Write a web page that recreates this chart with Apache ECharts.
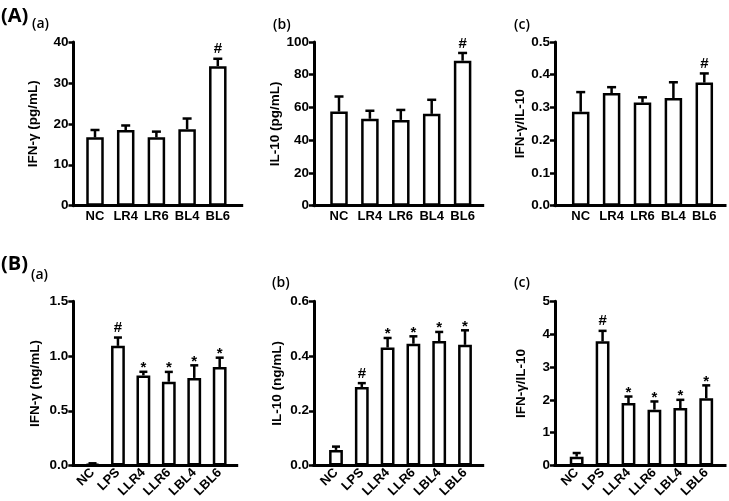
<!DOCTYPE html>
<html><head><meta charset="utf-8">
<script src="https://cdn.jsdelivr.net/npm/echarts@6/dist/echarts.min.js"></script>
<style>html,body{margin:0;padding:0;background:#fff}#c{width:729px;height:501px}</style>
</head><body><div id="c"></div>
<script>
// ---- data ----
const catsA = ['NC','LR4','LR6','BL4','BL6'];
const catsB = ['NC','LPS','LLR4','LLR6','LBL4','LBL6'];

const Aa_mean = [16.7, 18.5, 16.7, 18.7, 34.1];
const Aa_err  = [1.8, 1.1, 1.4, 2.6, 1.8];
const Aa_mark = ['', '', '', '', '#'];

const Ab_mean = [57.5, 53.1, 52.4, 56.1, 88.6];
const Ab_err  = [9.2, 4.9, 6.1, 8.6, 4.7];
const Ab_mark = ['', '', '', '', '#'];

const Ac_mean = [0.287, 0.344, 0.315, 0.329, 0.376];
const Ac_err  = [0.060, 0.018, 0.016, 0.048, 0.028];
const Ac_mark = ['', '', '', '', '#'];

const Ba_mean = [0.015, 1.093, 0.823, 0.765, 0.80, 0.90];
const Ba_err  = [0.005, 0.076, 0.033, 0.09, 0.115, 0.085];
const Ba_mark = ['', '#', '*', '*', '*', '*'];

const Bb_mean = [0.057, 0.287, 0.431, 0.445, 0.455, 0.441];
const Bb_err  = [0.012, 0.014, 0.035, 0.027, 0.033, 0.053];
const Bb_mark = ['', '#', '*', '*', '*', '*'];

const Bc_mean = [0.27, 3.78, 1.90, 1.70, 1.75, 2.05];
const Bc_err  = [0.11, 0.32, 0.20, 0.25, 0.25, 0.39];
const Bc_mark = ['', '#', '*', '*', '*', '*'];

// y axis ranges / ticks
const Aa_axis = {max: 40, interval: 10, dec: 0, name: 'IFN-γ (pg/mL)'};
const Ab_axis = {max: 100, interval: 20, dec: 0, name: 'IL-10 (pg/mL)'};
const Ac_axis = {max: 0.5, interval: 0.1, dec: 1, name: 'IFN-γ/IL-10'};
const Ba_axis = {max: 1.5, interval: 0.5, dec: 1, name: 'IFN-γ (ng/mL)'};
const Bb_axis = {max: 0.6, interval: 0.2, dec: 1, name: 'IL-10 (ng/mL)'};
const Bc_axis = {max: 5, interval: 1, dec: 0, name: 'IFN-γ/IL-10'};

// ---- layout (positions/styles) ----
const panels = [
  {cats: catsA, mean: Aa_mean, err: Aa_err, mark: Aa_mark, ax: Aa_axis, axisX: 73.5, end: 241.7, top: 42, zero: 205.7, bandStart: 79.65, band: 153.5, nameGap: 33, rot: 0, bw: 17.5, cap: 4.5},
  {cats: catsA, mean: Ab_mean, err: Ab_err, mark: Ab_mark, ax: Ab_axis, axisX: 314, end: 482.7, top: 42, zero: 205.7, bandStart: 323.55, band: 154.5, nameGap: 29.5, rot: 0, bw: 17.5, cap: 4.5},
  {cats: catsA, mean: Ac_mean, err: Ac_err, mark: Ac_mark, ax: Ac_axis, axisX: 555, end: 725, top: 42, zero: 205.7, bandStart: 565.25, band: 154.5, nameGap: 25.5, rot: 0, bw: 17.5, cap: 4.5},
  {cats: catsB, mean: Ba_mean, err: Ba_err, mark: Ba_mark, ax: Ba_axis, axisX: 73.3, end: 236.7, top: 301.3, zero: 465.5, bandStart: 79.8, band: 152.6, nameGap: 31.5, rot: 45, bw: 13.8, cap: 4},
  {cats: catsB, mean: Bb_mean, err: Bb_err, mark: Bb_mark, ax: Bb_axis, axisX: 314, end: 482.7, top: 301.3, zero: 465.5, bandStart: 323.1, band: 154.8, nameGap: 29.5, rot: 45, bw: 13.8, cap: 4},
  {cats: catsB, mean: Bc_mean, err: Bc_err, mark: Bc_mark, ax: Bc_axis, axisX: 555, end: 725, top: 301.3, zero: 465.5, bandStart: 563.7, band: 155.5, nameGap: 26.5, rot: 45, bw: 13.8, cap: 4}
];

const FONT = 'Liberation Sans, Arial, sans-serif';
const grid = [], xAxis = [], yAxis = [], series = [];
const N = panels.length;

panels.forEach((p, i) => {
  const h = p.zero - p.top;
  grid[i] = {left: p.axisX, top: p.top, width: p.end - p.axisX, height: h, containLabel: false};
  grid[N + i] = {left: p.bandStart, top: p.top, width: p.band, height: h, containLabel: false};

  xAxis[i] = {gridIndex: i, type: 'category', data: p.cats,
    axisLine: {show: true, lineStyle: {color: '#000', width: 3, cap: 'square'}},
    axisTick: {show: false}, axisLabel: {show: false}, splitLine: {show: false}};
  yAxis[i] = {gridIndex: i, type: 'value', min: 0, max: p.ax.max, interval: p.ax.interval,
    axisLine: {show: true, lineStyle: {color: '#000', width: 3}},
    axisTick: {show: true, length: 5, lineStyle: {color: '#000', width: 2.5}},
    axisLabel: {show: true, margin: 5, color: '#000', fontFamily: FONT, fontWeight: 'bold', fontSize: 13.5,
      formatter: v => Number(v).toFixed(p.ax.dec)},
    splitLine: {show: false},
    name: p.ax.name, nameLocation: 'middle', nameGap: p.nameGap,
    nameTextStyle: {color: '#000', fontFamily: FONT, fontWeight: 'bold', fontSize: 13.5}};

  xAxis[N + i] = {gridIndex: N + i, type: 'category', data: p.cats,
    axisLine: {show: false}, axisTick: {show: false}, splitLine: {show: false},
    axisLabel: {show: true, interval: 0, rotate: p.rot, margin: p.rot ? 5 : 4, color: '#000',
      fontFamily: FONT, fontWeight: 'bold', fontSize: 13}};
  yAxis[N + i] = {gridIndex: N + i, type: 'value', min: 0, max: p.ax.max, show: false, splitLine: {show: false}};

  series.push({type: 'bar', xAxisIndex: N + i, yAxisIndex: N + i, data: p.mean, barWidth: p.bw,
    itemStyle: {color: '#fff', borderColor: '#000', borderWidth: 2.5}, z: 2, silent: true, animation: false});

  series.push({type: 'custom', xAxisIndex: N + i, yAxisIndex: N + i, z: 3, silent: true, animation: false,
    data: p.mean.map((m, k) => [k, m, p.err[k]]),
    renderItem: (params, api) => {
      const k = api.value(0), m = api.value(1), e = api.value(2);
      const p0 = api.coord([k, m]);
      const p1 = api.coord([k, m + e]);
      const mk = p.mark[params.dataIndex];
      const ch = [
        {type: 'line', shape: {x1: p0[0], y1: p0[1], x2: p1[0], y2: p1[1]}, style: {stroke: '#000', lineWidth: 2.5}},
        {type: 'line', shape: {x1: p1[0] - p.cap, y1: p1[1], x2: p1[0] + p.cap, y2: p1[1]}, style: {stroke: '#000', lineWidth: 2.5}}
      ];
      if (mk) {
        const dy = mk === '#' ? 9.5 : 3.7;
        ch.push({type: 'text', x: p1[0], y: p1[1] - dy,
          style: {text: mk, fill: '#000', font: 'bold 15px ' + FONT, align: 'center', verticalAlign: 'middle'}});
      }
      return {type: 'group', children: ch};
    }});
});

const lab = (t, x, y, size, weight) => ({type: 'text', x: x, y: y,
  style: {text: t, fill: '#000', font: weight + ' ' + size + 'px "Open Sans", sans-serif', verticalAlign: 'middle'}});

const chart = echarts.init(document.getElementById('c'), null, {renderer: 'canvas'});
chart.setOption({
  animation: false,
  backgroundColor: '#fff',
  grid, xAxis, yAxis, series,
  graphic: [
    lab('(A)', 1, 16, 20, 'bold'),
    lab('(a)', 32, 24, 14, '600'),
    lab('(b)', 273, 25.5, 14, '600'),
    lab('(c)', 514, 25.5, 14, '600'),
    lab('(B)', 1, 264.5, 20, 'bold'),
    lab('(a)', 31, 275.5, 14, '600'),
    lab('(b)', 272, 283, 14, '600'),
    lab('(c)', 514, 283, 14, '600')
  ]
});
</script></body></html>
